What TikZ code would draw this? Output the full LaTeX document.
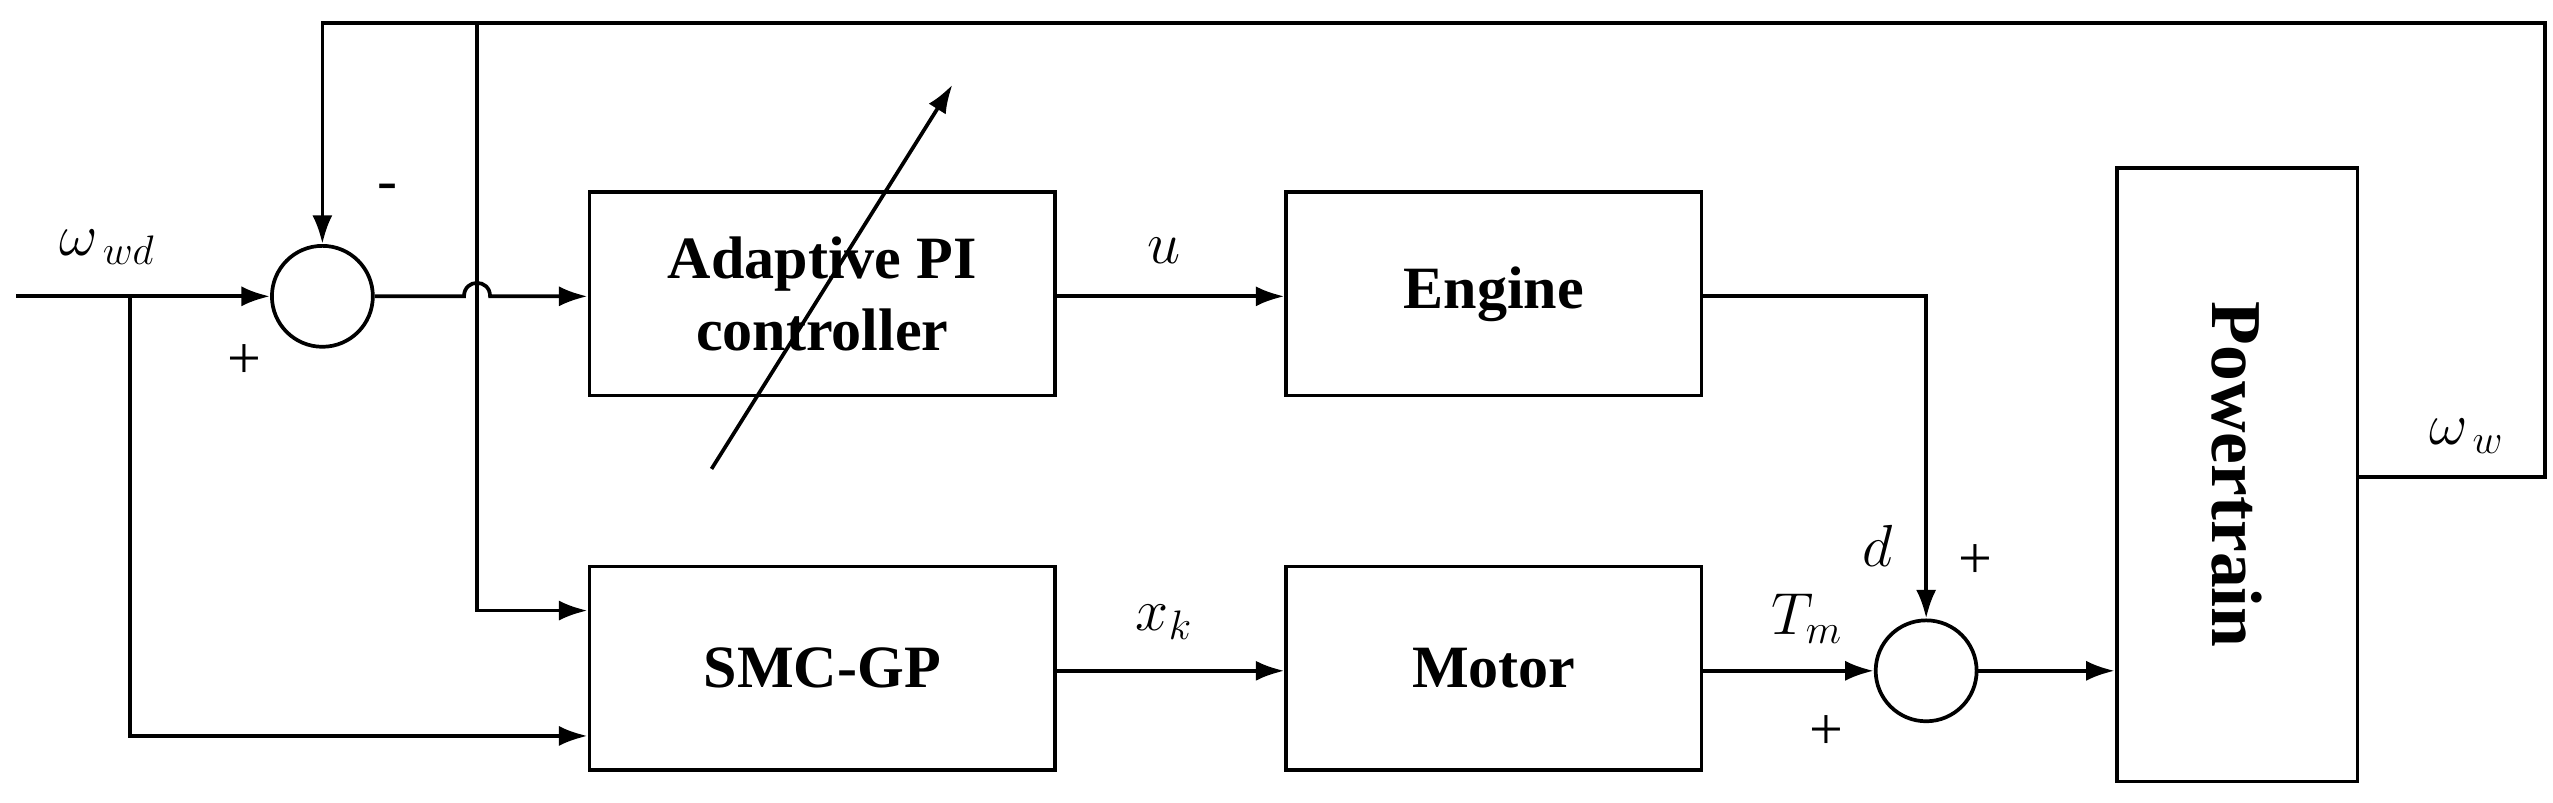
\documentclass[tikz,border=0pt]{standalone}
\usetikzlibrary{arrows.meta}
\usepackage{fontspec}
\setmainfont{Liberation Serif}
\begin{document}
\begin{tikzpicture}[x=0.02cm,y=-0.02cm,line width=1.3pt,
  blk/.style={draw,line width=1.3pt,inner sep=0pt,font=\fontsize{21}{25}\selectfont\bfseries,align=center},
  sum/.style={draw,circle,line width=1.3pt,minimum size=1.24cm,inner sep=0pt},
  lab/.style={font=\fontsize{21}{25}\selectfont},
  arr/.style={-{Latex[length=10pt,width=7pt]}}]
\useasboundingbox (0,0) rectangle (1568,493);
\node[sum] (s1) at (198,182) {};
\node[sum] (s2) at (1183,412) {};
\node[blk,minimum width=5.72cm,minimum height=2.5cm] (pi) at (505,180.5) {Adaptive PI\\controller};
\node[blk,minimum width=5.1cm,minimum height=2.5cm] (eng) at (917.5,180.5) {Engine};
\node[blk,minimum width=5.72cm,minimum height=2.5cm] (smc) at (505,410.5) {SMC-GP};
\node[blk,minimum width=5.1cm,minimum height=2.5cm] (mot) at (917.5,410.5) {Motor};
\node[draw,line width=1.3pt,minimum width=2.96cm,minimum height=7.54cm] (pt) at (1374,291.5) {};
\node[font=\fontsize{25}{29}\selectfont\bfseries,rotate=-90] at (pt.center) {Powertrain};
\coordinate (in) at (10,182);
\coordinate (b1) at (80,182);
\coordinate (b2) at (80,452);
\coordinate (tr) at (1563,14);
\coordinate (rr) at (1563,293);
\coordinate (tl) at (198,14);
\coordinate (tb) at (293,14);
\coordinate (tb2) at (293,375);
\coordinate (ec) at (1183,182);
% input
\draw[arr] (in) -- (s1.west);
\draw[arr] (b1) -- (b2) -- (smc.west |- b2);
% feedback
\draw[arr] (pt.east |- rr) -- (rr) -- (tr) -- (tl) -- (s1.north);
\draw[arr] (tb) -- (tb2) -- (smc.west |- tb2);
% s1 to PI with hop
\draw[arr] (s1.east) -- (285,182) .. controls (285,171) and (301,171) .. (301,182) -- (pi.west |- s1);
\draw[arr] (437,288) -- (585,52);
\draw[arr] (pi.east |- s1) -- (eng.west |- s1);
\draw[arr] (eng.east |- ec) -- (ec) -- (s2.north);
\draw[arr] (smc.east |- s2) -- (mot.west |- s2);
\draw[arr] (mot.east |- s2) -- (s2.west);
\draw[arr] (s2.east) -- (pt.west |- s2);
% labels
\node[lab] at (238,118) {-};
\node[lab] at (150,222) {+};
\node[lab] at (1213,345) {+};
\node[lab] at (1122,450) {+};
\node[lab] at (66,152) {$\omega_{\,wd}$};
\node[lab] at (1515,268) {$\omega_{\,w}$};
\node[lab] at (715,154) {$u$};
\node[lab] at (715,382) {$x_k$};
\node[lab] at (1110,380) {$T_m$};
\node[lab] at (1153,335) {$d$};
\end{tikzpicture}
\end{document}
